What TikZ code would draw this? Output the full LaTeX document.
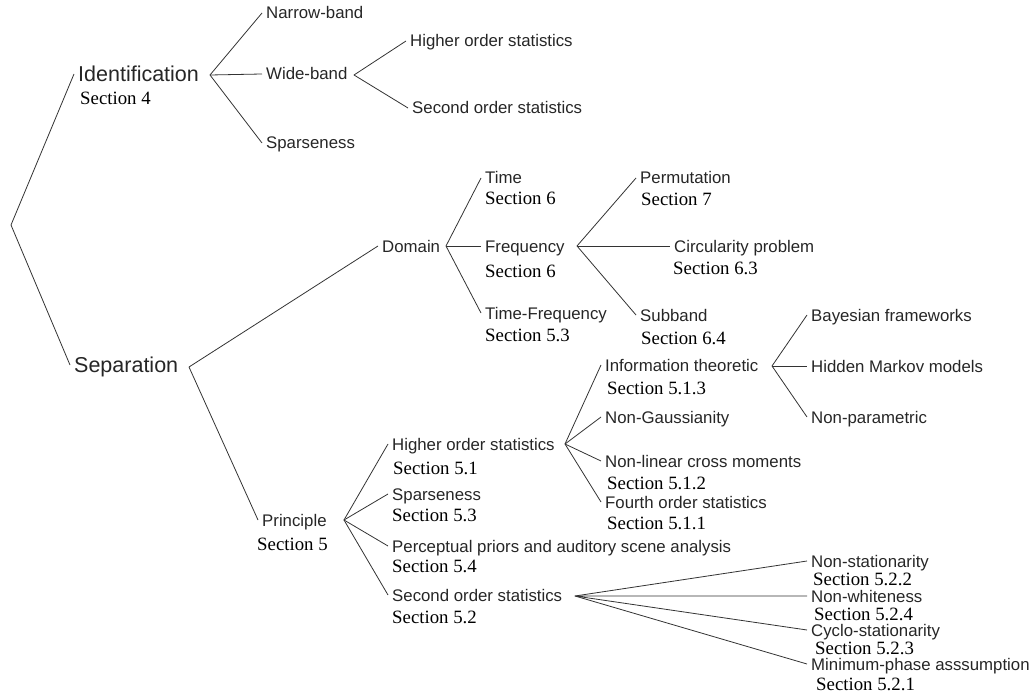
\documentclass[tikz,border=0pt]{standalone}
\usepackage{fontspec}
\setmainfont{Liberation Sans}
\newfontfamily\secfont{Liberation Serif}
\usetikzlibrary{positioning}
\tikzset{
	lbl/.style={anchor=west,inner xsep=4pt,inner ysep=0pt,text height=12pt,text depth=0pt,text=black!85,font=\fontsize{16.8}{20}\selectfont},
	biglbl/.style={lbl,text height=15.4pt,font=\fontsize{21.5}{25}\selectfont},
	sec/.style={anchor=west,inner sep=0pt,text height=12.6pt,text depth=0pt,text=black,font=\secfont\fontsize{18.8}{22}\selectfont},
	branch/.style={draw=black!80,line width=0.8pt}
}
\begin{document}
\begin{tikzpicture}[x=1pt,y=-1pt,line join=round]
		\useasboundingbox (0,0) rectangle (1036,695);
		%==apex points of the branches
		\coordinate (root) at (11,225);
		\coordinate (ida) at (210,75);
		\coordinate (wba) at (354,75);
		\coordinate (sepa) at (189,367);
		\coordinate (doma) at (446,246);
		\coordinate (freqa) at (577,246);
		\coordinate (princa) at (344,520);
		\coordinate (hosa) at (565,444);
		\coordinate (infoa) at (772,366);
		\coordinate (sosa) at (575,596);
		%==Identification
		\node[biglbl] (ident) at (74,74) {Identification};
		\node[sec] (sec4) at (80,98) {Section 4};
		\node[lbl] (narrow) at (262,13) {Narrow-band};
		\node[lbl] (wide) at (262,74) {Wide-band};
		\node[lbl] (sparseA) at (262,143) {Sparseness};
		\node[lbl] (hosA) at (406,41) {Higher order statistics};
		\node[lbl] (sosA) at (408,108) {Second order statistics};
		%==Separation, domain
		\node[biglbl] (sep) at (70,365) {Separation};
		\node[lbl] (domain) at (378,246) {Domain};
		\node[lbl] (time) at (481,178) {Time};
		\node[sec] (secTime) at (485,198) {Section 6};
		\node[lbl] (freq) at (481,246) {Frequency};
		\node[sec] (secFreq) at (485,271) {Section 6};
		\node[lbl] (tf) at (481,313) {Time-Frequency};
		\node[sec] (secTF) at (485,335) {Section 5.3};
		\node[lbl] (perm) at (636,178) {Permutation};
		\node[sec] (secPerm) at (641,199) {Section 7};
		\node[lbl] (circ) at (670,246) {Circularity problem};
		\node[sec] (secCirc) at (673,268) {Section 6.3};
		\node[lbl] (sub) at (636,315) {Subband};
		\node[sec] (secSub) at (641,338) {Section 6.4};
		%==Separation, principle
		\node[lbl] (princ) at (258,520) {Principle};
		\node[sec] (secPrinc) at (257,544) {Section 5};
		\node[lbl] (hos) at (388,444) {Higher order statistics};
		\node[sec] (secHos) at (393,468) {Section 5.1};
		\node[lbl] (sparse) at (388,494) {Sparseness};
		\node[sec] (secSparse) at (392,515) {Section 5.3};
		\node[lbl] (percep) at (388,546) {Perceptual priors and auditory scene analysis};
		\node[sec] (secPercep) at (392,566) {Section 5.4};
		\node[lbl] (sos) at (388,595) {Second order statistics};
		\node[sec] (secSos) at (392,617) {Section 5.2};
		\node[lbl] (info) at (601,365) {Information theoretic};
		\node[sec] (secInfo) at (607,388) {Section 5.1.3};
		\node[lbl] (gauss) at (601,417) {Non-Gaussianity};
		\node[lbl] (nonlin) at (601,461) {Non-linear cross moments};
		\node[sec] (secNonlin) at (607,483) {Section 5.1.2};
		\node[lbl] (fourth) at (601,502) {Fourth order statistics};
		\node[sec] (secFourth) at (607,523) {Section 5.1.1};
		\node[lbl] (bayes) at (807,315) {Bayesian frameworks};
		\node[lbl] (hmm) at (807,366) {Hidden Markov models};
		\node[lbl] (nonpar) at (807,417) {Non-parametric};
		\node[lbl] (nstat) at (807,561) {Non-stationarity};
		\node[sec] (secNstat) at (813,579) {Section 5.2.2};
		\node[lbl] (nwhite) at (807,596) {Non-whiteness};
		\node[sec] (secNwhite) at (814,614) {Section 5.2.4};
		\node[lbl] (cyclo) at (807,630) {Cyclo-stationarity};
		\node[sec] (secCyclo) at (815,648) {Section 5.2.3};
		\node[lbl] (minph) at (807,664) {Minimum-phase asssumption};
		\node[sec] (secMinph) at (816,684) {Section 5.2.1};
		%==branches
		\draw[branch] (ident.west)--(root)--(sep.west);
		\draw[branch] (narrow.west)--(ida)--(sparseA.west);
		\draw[branch] (ida)--(wide.west);
		\draw[branch] (hosA.west)--(wba)--(sosA.west);
		\draw[branch] (domain.west)--(sepa)--(princ.west);
		\draw[branch] (time.west)--(doma)--(tf.west);
		\draw[branch] (doma)--(freq.west);
		\draw[branch] (perm.west)--(freqa)--(sub.west);
		\draw[branch] (freqa)--(circ.west);
		\draw[branch] (hos.west)--(princa)--(sos.west);
		\draw[branch] (sparse.west)--(princa)--(percep.west);
		\draw[branch] (info.west)--(hosa)--(fourth.west);
		\draw[branch] (gauss.west)--(hosa)--(nonlin.west);
		\draw[branch] (bayes.west)--(infoa)--(nonpar.west);
		\draw[branch] (infoa)--(hmm.west);
		\draw[branch] (nstat.west)--(sosa)--(minph.west);
		\draw[branch] (nwhite.west)--(sosa)--(cyclo.west);
\end{tikzpicture}
\end{document}
